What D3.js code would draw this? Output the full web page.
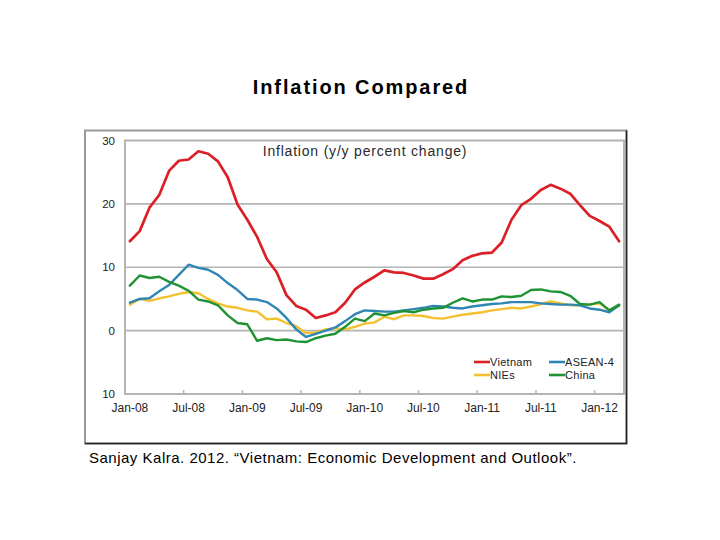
<!DOCTYPE html>
<html>
<head>
<meta charset="utf-8">
<script src="https://cdn.jsdelivr.net/npm/d3@7"></script>
<style>
  body { margin: 0; background: #fff; }
  text { font-family: "Liberation Sans", Arial, sans-serif; }
</style>
</head>
<body>
<script>
var w = 720;
var h = 540;

// monthly categories Jan-08 .. Mar-12
var months = d3.timeMonth.range(new Date(2008, 0, 1), new Date(2012, 3, 1));
var tickLabels = ["Jan-08", "Jul-08", "Jan-09", "Jul-09", "Jan-10", "Jul-10", "Jan-11", "Jul-11", "Jan-12"];
var yTicks = [30, 20, 10, 0, -10];

var vietnam = [14.1, 15.7, 19.4, 21.4, 25.2, 26.8, 27.0, 28.3, 27.9, 26.7, 24.2, 19.9,
               17.5, 14.8, 11.3, 9.2, 5.6, 3.9, 3.3, 2.0, 2.4, 2.9, 4.4, 6.5,
               7.6, 8.5, 9.5, 9.2, 9.1, 8.7, 8.2, 8.2, 8.9, 9.7, 11.1, 11.8,
               12.2, 12.3, 13.9, 17.5, 19.8, 20.8, 22.2, 23.0, 22.4, 21.6, 19.8, 18.1,
               17.3, 16.4, 14.1];
var asean4 = [4.4, 5.0, 5.1, 6.2, 7.2, 8.8, 10.4, 9.9, 9.6, 8.8, 7.5, 6.4,
              5.0, 4.9, 4.5, 3.5, 2.0, 0.2, -1.0, -0.5, 0.0, 0.5, 1.5, 2.6,
              3.2, 3.1, 3.0, 3.0, 3.2, 3.4, 3.6, 3.9, 3.8, 3.6, 3.5, 3.8,
              4.0, 4.2, 4.3, 4.5, 4.5, 4.5, 4.3, 4.2, 4.1, 4.1, 4.0, 3.5,
              3.3, 2.9, 4.0];
var nies = [4.1, 5.0, 4.7, 5.1, 5.4, 5.8, 6.1, 5.9, 5.0, 4.3, 3.8, 3.6,
            3.2, 3.0, 1.8, 1.9, 1.2, 0.7, -0.4, -0.3, 0.2, 0.4, 0.2, 0.6,
            1.1, 1.3, 2.2, 1.8, 2.4, 2.4, 2.3, 2.0, 1.9, 2.2, 2.5, 2.7,
            2.9, 3.2, 3.4, 3.6, 3.5, 3.8, 4.2, 4.6, 4.3, 4.0, 4.0, 4.1,
            4.3, 3.2, 3.9];
var china = [7.1, 8.7, 8.3, 8.5, 7.7, 7.1, 6.3, 4.9, 4.6, 4.0, 2.4, 1.2,
             1.0, -1.6, -1.2, -1.5, -1.4, -1.7, -1.8, -1.2, -0.8, -0.5, 0.6, 1.9,
             1.5, 2.7, 2.4, 2.8, 3.1, 2.9, 3.3, 3.5, 3.6, 4.4, 5.1, 4.6,
             4.9, 4.9, 5.4, 5.3, 5.5, 6.4, 6.5, 6.2, 6.1, 5.5, 4.2, 4.1,
             4.5, 3.2, 4.1];

var seriesNames = ["Vietnam", "ASEAN-4", "NIEs", "China"];
var seriesColors = ["#dc1f26", "#2f86b4", "#f4c030", "#1f9334"];
var seriesData = [vietnam, asean4, nies, china];
// draw order: back to front
var drawOrder = [0, 2, 1, 3];

var fmt = d3.timeFormat("%b-%y");

var svg = d3.select("body")
    .append("svg")
        .attr("width", w)
        .attr("height", h);

// page title
svg.append("text")
    .attr("x", 361)
    .attr("y", 94)
    .attr("text-anchor", "middle")
    .attr("font-size", 20)
    .attr("font-weight", "bold")
    .attr("letter-spacing", 1.9)
    .attr("fill", "#000")
    .text("Inflation Compared");

// picture frame
svg.append("rect")
    .attr("x", 85)
    .attr("y", 130.5)
    .attr("width", 541.5)
    .attr("height", 313)
    .attr("fill", "#fff")
    .attr("stroke", "#9a9a9a")
    .attr("stroke-width", 2);
svg.append("path")
    .attr("d", "M626.5,130.5 V443.5 H85")
    .attr("fill", "none")
    .attr("stroke", "#222")
    .attr("stroke-width", 1.5);

var plot = {left: 125, right: 624, top: 140.5, bottom: 394};

var x = d3.scaleBand()
    .domain(months)
    .range([plot.left, plot.right]);

var y = d3.scaleLinear()
    .domain([-10, 30])
    .range([plot.bottom, plot.top]);

var getX = function(d, i) {
    return x(months[i]) + x.bandwidth() / 2;
};

// gridlines
svg.selectAll(".grid")
    .data([20, 10, 0])
    .enter()
    .append("line")
        .attr("x1", plot.left)
        .attr("x2", plot.right)
        .attr("y1", function(d) { return y(d); })
        .attr("y2", function(d) { return y(d); })
        .attr("stroke", "#b4b4b4")
        .attr("stroke-width", 1.6);

// plot border
svg.append("rect")
    .attr("x", plot.left)
    .attr("y", plot.top)
    .attr("width", plot.right - plot.left)
    .attr("height", plot.bottom - plot.top)
    .attr("fill", "none")
    .attr("stroke", "#b4b4b4")
    .attr("stroke-width", 2);

// x tick marks at category boundaries, labels centred on the category
var tickMonths = months.filter(function(m) { return tickLabels.indexOf(fmt(m)) >= 0; });

svg.selectAll(".xtick")
    .data(tickMonths.slice(1))
    .enter()
    .append("line")
        .attr("x1", function(d) { return x(d); })
        .attr("x2", function(d) { return x(d); })
        .attr("y1", plot.bottom)
        .attr("y2", plot.bottom - 4)
        .attr("stroke", "#b4b4b4")
        .attr("stroke-width", 1.5);

svg.selectAll(".xlabel")
    .data(tickMonths)
    .enter()
    .append("text")
        .attr("x", function(d) { return x(d) + x.bandwidth() / 2; })
        .attr("y", 411.5)
        .attr("text-anchor", "middle")
        .attr("font-size", 12)
        .attr("fill", "#222")
        .text(function(d) { return fmt(d); });

// y labels (the source prints the bottom one without a minus)
svg.selectAll(".ylabel")
    .data(yTicks)
    .enter()
    .append("text")
        .attr("x", 115)
        .attr("y", function(d) { return y(d) + 4; })
        .attr("text-anchor", "end")
        .attr("font-size", 11.5)
        .attr("fill", "#222")
        .text(function(d) { return Math.abs(d); });

// chart subtitle
svg.append("text")
    .attr("x", 365)
    .attr("y", 156)
    .attr("text-anchor", "middle")
    .attr("font-size", 14)
    .attr("letter-spacing", 0.8)
    .attr("fill", "#2a2a2a")
    .text("Inflation (y/y percent change)");

var line = d3.line()
    .x(getX)
    .y(function(d) { return y(d); });

drawOrder.forEach(function(k) {
    svg.append("path")
        .datum(seriesData[k])
        .attr("d", line)
        .attr("fill", "none")
        .attr("stroke", seriesColors[k])
        .attr("stroke-width", k === 0 ? 2.7 : 2.4)
        .attr("stroke-linejoin", "round")
        .attr("stroke-linecap", "round");
});

// legend
var legendPos = [[474, 362], [549, 362], [474, 375], [549, 375]];
seriesNames.forEach(function(name, k) {
    var p = legendPos[k];
    svg.append("line")
        .attr("x1", p[0])
        .attr("x2", p[0] + 16)
        .attr("y1", p[1])
        .attr("y2", p[1])
        .attr("stroke", seriesColors[k])
        .attr("stroke-width", 2.6);
    svg.append("text")
        .attr("x", p[0] + 16)
        .attr("y", p[1] + 4)
        .attr("font-size", 11)
        .attr("letter-spacing", 0.3)
        .attr("fill", "#222")
        .text(name);
});

// source caption
svg.append("text")
    .attr("x", 89)
    .attr("y", 463)
    .attr("font-size", 15)
    .attr("letter-spacing", 0.5)
    .attr("fill", "#000")
    .text("Sanjay Kalra. 2012. \u201cVietnam: Economic Development and Outlook\u201d.");
</script>
</body>
</html>
